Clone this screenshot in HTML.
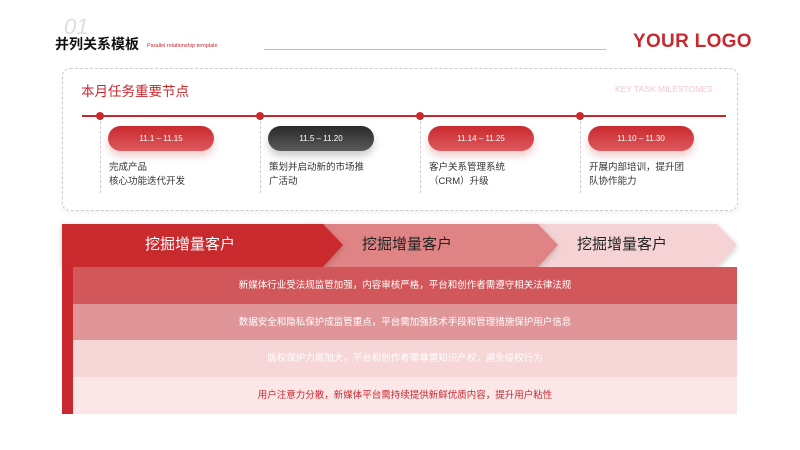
<!DOCTYPE html>
<html><head><meta charset="utf-8"><style>
*{margin:0;padding:0;box-sizing:border-box}
body{width:800px;height:450px;background:#fff;position:relative;overflow:hidden;font-family:"Liberation Sans","Noto Sans CJK SC",sans-serif}
.a{position:absolute}
.pill{position:absolute;width:106px;height:25px;border-radius:13px;color:#fff;font-size:8px;text-align:center;line-height:25px;background:linear-gradient(#c9292e,#dd5a5e);box-shadow:0 5px 8px rgba(200,60,60,.25)}
.dot{position:absolute;width:8px;height:8px;border-radius:50%;background:#c9292e;top:112px}
.vl{position:absolute;top:121px;height:72px;border-left:1px dashed #ccc}
.t{position:absolute;font-size:9.5px;color:#333;line-height:14px;top:161px}
.row{position:absolute;left:73px;width:664px;height:37px;font-size:9.5px;text-align:center;line-height:37px}
</style></head><body>
<div class="a" style="left:64px;top:14px;font-size:22px;color:#ddd;font-style:italic">01</div>
<div class="a" style="left:55px;top:34px;font-size:14px;font-weight:bold;color:#111">并列关系模板</div>
<div class="a" style="left:147px;top:43px;font-size:5.5px;color:#c9292e">Parallel relationship template</div>
<div class="a" style="left:264px;top:49px;width:342px;border-top:1px solid #bbb"></div>
<div class="a" style="left:633px;top:31px;font-size:19px;font-weight:bold;color:#c9292e;letter-spacing:.3px">YOUR LOGO</div>
<div class="a" style="left:62px;top:68px;width:676px;height:143px;border:1px dashed #ccc;border-radius:8px;box-shadow:0 2px 6px rgba(0,0,0,.05)"></div>
<div class="a" style="left:81px;top:80px;font-size:13.5px;color:#c9292e">本月任务重要节点</div>
<div class="a" style="left:615px;top:84px;font-size:8.5px;color:#f3c8ca">KEY TASK MILESTONES</div>
<div class="a" style="left:82px;top:115px;width:644px;height:2px;background:#c9292e"></div>
<div class="dot" style="left:96px"></div><div class="dot" style="left:256px"></div><div class="dot" style="left:416px"></div><div class="dot" style="left:576px"></div>
<div class="vl" style="left:100px"></div><div class="vl" style="left:260px"></div><div class="vl" style="left:420px"></div><div class="vl" style="left:580px"></div>
<div class="pill" style="left:108px;top:126px">11.1 – 11.15</div>
<div class="pill" style="left:268px;top:126px;background:linear-gradient(#2a2a2a,#5a5a5a);box-shadow:0 5px 8px rgba(0,0,0,.2)">11.5 – 11.20</div>
<div class="pill" style="left:428px;top:126px">11.14 – 11.25</div>
<div class="pill" style="left:588px;top:126px">11.10 – 11.30</div>
<div class="t" style="left:109px">完成产品<br>核心功能迭代开发</div>
<div class="t" style="left:269px">策划并启动新的市场推<br>广活动</div>
<div class="t" style="left:429px">客户关系管理系统<br>（CRM）升级</div>
<div class="t" style="left:589px">开展内部培训，提升团<br>队协作能力</div>
<svg class="a" style="left:0;top:0" width="800" height="450">
<defs><filter id="s" x="-10%" y="-30%" width="120%" height="160%"><feDropShadow dx="0" dy="2" stdDeviation="3" flood-opacity=".2"/></filter></defs>
<polygon filter="url(#s)" points="520,224 717,224 737,245 717,267 520,267" fill="#f5d3d4"/>
<polygon filter="url(#s)" points="300,224 538,224 558,245 538,267 300,267" fill="#e08385"/>
<polygon filter="url(#s)" points="62,224 323,224 343,245 323,267 62,267" fill="#c9292e"/>
<rect x="62" y="267" width="11" height="147" fill="#c9292e"/>
</svg>
<div class="a" style="left:90px;top:233px;width:200px;text-align:center;font-size:15px;color:#fff">挖掘增量客户</div>
<div class="a" style="left:307px;top:233px;width:200px;text-align:center;font-size:15px;color:#222">挖掘增量客户</div>
<div class="a" style="left:522px;top:233px;width:200px;text-align:center;font-size:15px;color:#222">挖掘增量客户</div>
<div class="row" style="top:267px;background:#d1575a;color:#fff">新媒体行业受法规监管加强，内容审核严格，平台和创作者需遵守相关法律法规</div>
<div class="row" style="top:304px;background:#e09698;color:#fff">数据安全和隐私保护成监管重点，平台需加强技术手段和管理措施保护用户信息</div>
<div class="row" style="top:340px;background:#f6d6d7;color:#fff">版权保护力度加大，平台和创作者需尊重知识产权，避免侵权行为</div>
<div class="row" style="top:377px;background:#fbe7e8;color:#c9292e">用户注意力分散，新媒体平台需持续提供新鲜优质内容，提升用户粘性</div>
</body></html>
